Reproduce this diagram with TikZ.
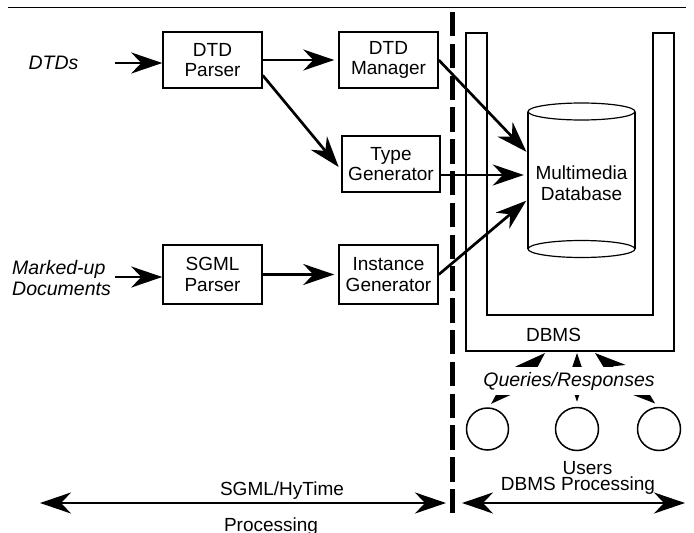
\documentclass[tikz,border=0pt]{standalone}
\usepackage{fontspec}
\setmainfont{Liberation Sans}
\usetikzlibrary{arrows.meta}
\begin{document}
\begin{tikzpicture}[x=1pt,y=-1pt,
  box/.style={draw, line width=1.5pt, minimum width=99pt, minimum height=56pt, inner sep=0pt, align=center, font=\fontsize{19}{20.5}\selectfont},
  lbl/.style={font=\fontsize{19}{20.5}\selectfont, inner sep=0pt, align=center},
  ilbl/.style={font=\fontsize{19.5}{20.5}\selectfont\itshape, inner sep=0pt, align=left},
  arr/.style={line width=2.7pt, -{Stealth[length=31pt,width=21pt,inset=10pt]}},
  darr/.style={line width=2.7pt, {Stealth[length=31pt,width=21pt,inset=10pt]}-{Stealth[length=31pt,width=21pt,inset=10pt]}},
  user/.style={circle, draw, line width=1.5pt, minimum size=42pt, inner sep=0pt}
]
\useasboundingbox (0,0) rectangle (694,533);
% top rule
\draw[line width=1pt] (8,7) -- (686,7);
% dashed separator
\draw[line width=4.5pt, dash pattern=on 24.3pt off 7.5pt] (452.5,12) -- (452.5,514);

% boxes
\node[box] (dtdp) at (212.5,60) {DTD\\Parser};
\node[box] (dtdm) at (388.5,60) {DTD\\Manager};
\node[box, minimum width=98pt] (tg) at (391,164) {Type\\Generator};
\node[box, minimum height=59pt] (sgmlp) at (212.5,274.5) {SGML\\Parser};
\node[box, minimum height=59pt] (ig) at (388.5,274.5) {Instance\\Generator};

% inputs
\node[ilbl] (dtds) at (53.5,63) {DTDs};
\node[ilbl, anchor=west] (mu) at (12,278) {Marked-up\\Documents};
\coordinate (dtdsin) at (115,63);
\coordinate (muin) at (115,277);

% DBMS U shape
\draw[line width=1.8pt] (466,33) -- (487,33) -- (487,315) -- (653,315) -- (653,33) -- (674,33) -- (674,351) -- (466,351) -- cycle;
\node[lbl] (dbms) at (553.5,335) {DBMS};

% cylinder
\draw[line width=1.2pt] (528,111.5) -- (528,249) (635,111.5) -- (635,249);
\draw[line width=1.2pt] (581.5,111.5) ellipse [x radius=53.5, y radius=8.5];
\draw[line width=1.2pt] (581.5,249) ellipse [x radius=53.5, y radius=8.5];
\node[lbl, minimum width=107pt, minimum height=137pt] (db) at (581.5,183) {Multimedia\\Database};

% arrows
\draw[arr] (dtdsin) -- (dtdsin -| dtdp.west);
\draw[arr] (muin) -- (muin -| sgmlp.west);
\draw[arr, shorten >=4pt] (dtdp.east) -- (dtdm.west);
\draw[arr, shorten >=4pt] (dtdp.-17) -- (tg.187);
\draw[arr, shorten >=4pt] (sgmlp.east) -- (ig.west);
\draw[arr, shorten >=2pt] (dtdm.east) -- (db.151);
\draw[arr, shorten >=4pt] (tg.east |- 0,175) -- (db.west |- 0,175);
\draw[arr, shorten >=2pt] (ig.east) -- (db.197);

% users
\node[user] (u1) at (487.5,429) {};
\node[user, minimum size=43pt] (u2) at (577,429) {};
\node[user, minimum size=43pt] (u3) at (659,429) {};
\coordinate (q1) at (545,353);
\coordinate (q2) at (577,353);
\coordinate (q3) at (595,353);
\draw[darr, shorten <=5pt] (u1.north) -- (q1);
\draw[darr, shorten <=5pt] (u2.north) -- (q2);
\draw[darr, shorten <=5pt] (u3.north) -- (q3);
\node[ilbl, fill=white, minimum height=28pt, inner xsep=2pt] (qr) at (569,381) {Queries/Responses};
\node[lbl] (users) at (587.5,468.5) {Users};
\node[lbl, anchor=base] (dbmsp) at (578,490) {DBMS Processing};

% bottom range arrows
\coordinate (l1) at (40,503);
\coordinate (l2) at (446,503);
\coordinate (r1) at (462,503);
\coordinate (r2) at (685,503);
\draw[darr] (l1) -- (l2);
\draw[darr] (r1) -- (r2);
\node[lbl, anchor=base] (sgmlh) at (282,495) {SGML/HyTime};
\node[lbl, anchor=base] (proc) at (271,531) {Processing};
\end{tikzpicture}
\end{document}
